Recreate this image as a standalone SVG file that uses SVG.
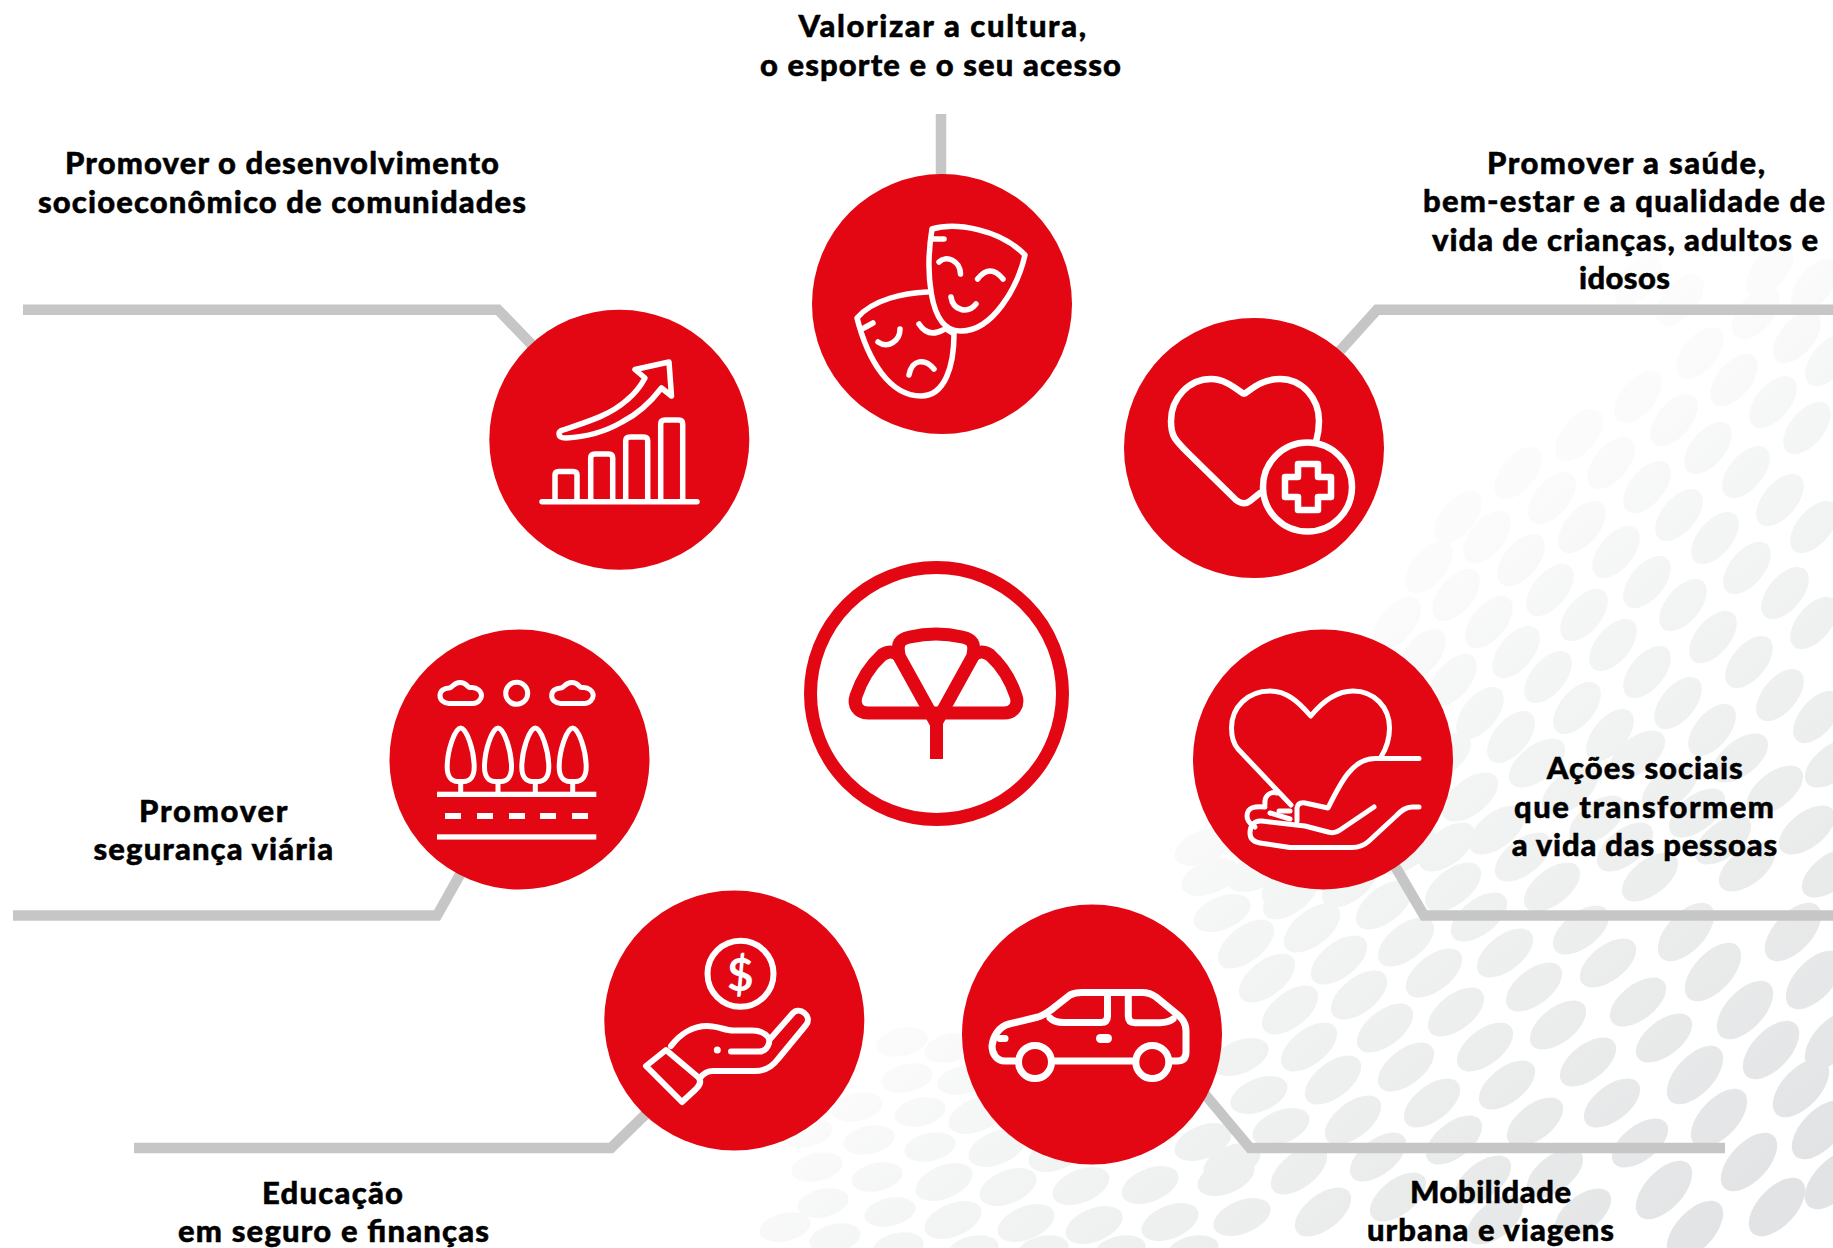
<svg xmlns="http://www.w3.org/2000/svg" width="1833" height="1248" viewBox="0 0 1833 1248">
<style>
text{font-family:"Lato","Liberation Sans",sans-serif;font-weight:900;font-size:31px;fill:#000;stroke:#000;stroke-width:.5}
.c{fill:#e30613}
.i{fill:none;stroke:#fff;stroke-width:5.5;stroke-linecap:round;stroke-linejoin:round}
.w{fill:#fff}
.conn{fill:none;stroke:#c6c6c6;stroke-width:10.5;stroke-linejoin:miter}
.logo{fill:none;stroke:#e30613;stroke-width:13;stroke-linejoin:round}
</style>
<defs>
<ellipse id="s" rx="31" ry="17" transform="rotate(-50)"/>
<ellipse id="b" rx="36" ry="19" transform="rotate(-47)"/>
<ellipse id="m" rx="33" ry="17.5" transform="rotate(-38)"/>
<ellipse id="l" rx="30" ry="16.5" transform="rotate(-22)"/>
<ellipse id="f" rx="26" ry="14" transform="rotate(-12)"/>
<linearGradient id="fade" gradientUnits="userSpaceOnUse" x1="1050" y1="600" x2="1650" y2="1300">
<stop offset="0" stop-color="#fff"/><stop offset=".25" stop-color="#fbfbfb"/><stop offset=".4" stop-color="#f4f5f5"/><stop offset=".6" stop-color="#eeefef"/><stop offset="1" stop-color="#e2e3e4"/>
</linearGradient>
<mask id="dots" maskUnits="userSpaceOnUse" x="0" y="0" width="1833" height="1248">
<g fill="#fff">
<use href="#s" x="1638" y="280"/><use href="#s" x="1680" y="300"/><use href="#s" x="1756" y="313"/><use href="#s" x="1797" y="337"/><use href="#s" x="1829" y="360"/><use href="#s" x="1770" y="270"/><use href="#s" x="1815" y="285"/>
<use href="#s" x="1700" y="353"/><use href="#s" x="1734" y="380"/><use href="#s" x="1773" y="402"/><use href="#s" x="1807" y="428"/>
<use href="#s" x="1638" y="397"/><use href="#s" x="1674" y="420"/><use href="#s" x="1708" y="448"/><use href="#s" x="1746" y="472"/><use href="#s" x="1780" y="500"/><use href="#s" x="1814" y="527"/>
<use href="#s" x="1579" y="435"/><use href="#s" x="1611" y="463"/><use href="#s" x="1647" y="487"/><use href="#s" x="1679" y="515"/><use href="#s" x="1715" y="538"/><use href="#s" x="1747" y="568"/><use href="#s" x="1785" y="593"/><use href="#s" x="1814" y="623"/>
<use href="#s" x="1518" y="473"/><use href="#s" x="1552" y="498"/><use href="#s" x="1582" y="527"/><use href="#s" x="1616" y="552"/><use href="#s" x="1647" y="582"/><use href="#s" x="1683" y="605"/><use href="#s" x="1713" y="637"/><use href="#s" x="1749" y="662"/><use href="#s" x="1780" y="695"/><use href="#s" x="1817" y="717"/>
<use href="#s" x="1458" y="517"/><use href="#s" x="1487" y="537"/><use href="#s" x="1521" y="560"/><use href="#s" x="1550" y="590"/><use href="#s" x="1584" y="615"/><use href="#s" x="1613" y="645"/><use href="#s" x="1647" y="672"/><use href="#s" x="1678" y="703"/><use href="#s" x="1712" y="730"/>
<use href="#s" x="1429" y="567"/><use href="#s" x="1456" y="595"/><use href="#s" x="1489" y="622"/><use href="#s" x="1516" y="652"/><use href="#s" x="1548" y="677"/><use href="#s" x="1577" y="708"/><use href="#s" x="1610" y="735"/>
<use href="#s" x="1397" y="623"/><use href="#s" x="1422" y="655"/><use href="#s" x="1453" y="680"/><use href="#s" x="1480" y="713"/><use href="#s" x="1511" y="737"/>
<use href="#m" x="1537" y="763"/><use href="#m" x="1637" y="755"/><use href="#m" x="1740" y="758"/><use href="#m" x="1833" y="763"/><use href="#m" x="1443" y="757"/>
<use href="#m" x="1470" y="797"/><use href="#m" x="1570" y="790"/><use href="#m" x="1670" y="787"/><use href="#m" x="1775" y="790"/>
<use href="#m" x="1497" y="830"/><use href="#m" x="1597" y="820"/><use href="#m" x="1697" y="813"/><use href="#m" x="1807" y="830"/>
<use href="#m" x="1447" y="847"/><use href="#m" x="1523" y="857"/><use href="#m" x="1625" y="847"/><use href="#m" x="1723" y="840"/>
<use href="#m" x="1453" y="887"/><use href="#m" x="1552" y="887"/><use href="#m" x="1650" y="877"/><use href="#m" x="1747" y="867"/><use href="#m" x="1830" y="873"/>
<use href="#l" x="1210" y="877"/><use href="#l" x="1255" y="873"/><use href="#l" x="1290" y="887"/><use href="#l" x="1203" y="847"/><use href="#m" x="1350" y="883"/><use href="#m" x="1407" y="850"/>
<use href="#l" x="1222" y="913"/><use href="#m" x="1291" y="895"/><use href="#m" x="1384" y="905"/><use href="#m" x="1479" y="917"/><use href="#m" x="1581" y="930"/><use href="#b" x="1686" y="932"/><use href="#b" x="1793" y="932"/>
<use href="#m" x="1246" y="944"/><use href="#m" x="1312" y="928"/><use href="#m" x="1406" y="942"/><use href="#m" x="1505" y="953"/><use href="#m" x="1608" y="963"/><use href="#b" x="1713" y="972"/><use href="#b" x="1814" y="980"/>
<use href="#m" x="1267" y="978"/><use href="#m" x="1339" y="960"/><use href="#m" x="1434" y="973"/><use href="#m" x="1534" y="987"/><use href="#m" x="1638" y="1002"/><use href="#b" x="1745" y="1010"/>
<use href="#m" x="1290" y="1010"/><use href="#m" x="1359" y="995"/><use href="#m" x="1456" y="1012"/><use href="#m" x="1558" y="1025"/><use href="#m" x="1664" y="1038"/><use href="#b" x="1771" y="1050"/>
<use href="#m" x="1309" y="1047"/><use href="#m" x="1385" y="1028"/><use href="#m" x="1485" y="1047"/><use href="#m" x="1588" y="1062"/><use href="#b" x="1695" y="1075"/><use href="#b" x="1801" y="1088"/>
<use href="#l" x="1240" y="1057"/><use href="#m" x="1333" y="1080"/><use href="#m" x="1406" y="1067"/><use href="#m" x="1507" y="1085"/><use href="#m" x="1612" y="1103"/><use href="#b" x="1719" y="1118"/><use href="#b" x="1820" y="1130"/>
<use href="#l" x="1259" y="1095"/><use href="#m" x="1353" y="1120"/><use href="#m" x="1432" y="1103"/><use href="#m" x="1535" y="1122"/><use href="#m" x="1640" y="1143"/><use href="#b" x="1749" y="1162"/>
<use href="#l" x="1281" y="1127"/><use href="#l" x="1203" y="1142"/><use href="#l" x="1232" y="1162"/><use href="#m" x="1454" y="1140"/>
<use href="#l" x="1226" y="1177"/><use href="#m" x="1299" y="1170"/><use href="#m" x="1378" y="1157"/><use href="#m" x="1483" y="1180"/><use href="#m" x="1555" y="1173"/><use href="#b" x="1664" y="1190"/><use href="#b" x="1777" y="1207"/><use href="#b" x="1833" y="1040"/>
<use href="#l" x="1242" y="1217"/><use href="#m" x="1323" y="1212"/><use href="#m" x="1398" y="1197"/><use href="#m" x="1495" y="1220"/><use href="#m" x="1583" y="1213"/><use href="#b" x="1695" y="1230"/><use href="#b" x="1833" y="1180"/>
<use href="#f" x="902" y="1042"/><use href="#f" x="950" y="1048"/><use href="#f" x="907" y="1078"/><use href="#f" x="963" y="1080"/><use href="#f" x="857" y="1107"/><use href="#f" x="920" y="1112"/><use href="#l" x="977" y="1115"/>
<use href="#f" x="807" y="1133"/><use href="#f" x="869" y="1140"/><use href="#f" x="930" y="1147"/><use href="#l" x="997" y="1148"/><use href="#l" x="1057" y="1153"/><use href="#f" x="817" y="1167"/><use href="#f" x="877" y="1177"/><use href="#l" x="944" y="1182"/><use href="#l" x="1008" y="1187"/><use href="#l" x="1081" y="1186"/><use href="#l" x="1150" y="1185"/>
<use href="#f" x="823" y="1203"/><use href="#f" x="890" y="1212"/><use href="#l" x="953" y="1220"/><use href="#l" x="1026" y="1223"/><use href="#l" x="1094" y="1225"/><use href="#l" x="1170" y="1222"/>
<use href="#f" x="835" y="1238"/><use href="#f" x="898" y="1247"/><use href="#f" x="785" y="1227"/><use href="#f" x="973" y="1250"/><use href="#f" x="1043" y="1250"/><use href="#f" x="1120" y="1250"/><use href="#f" x="1193" y="1250"/>
</g>
</mask>
<path id="cloud" d="M449,702.5H473C478,702.5 481.5,698 481.5,694.5C481.5,690 477,686.5 472,686.5H470C467,686.5 467,681.5 460,681.5C453,681.5 453,687 449,687C444,687 440,690 440,694.5C440,699 444,702.5 449,702.5Z"/>
<g id="tree"><path d="M0,727C6,727 13.5,750 13.5,766C13.5,776 9,780.5 3,780.5H-3C-9,780.5 -13.5,776 -13.5,766C-13.5,750 -6,727 0,727Z"/><path d="M0,780.5V792"/></g>
</defs>
<rect width="1833" height="1248" fill="#fff"/>
<g id="background"><rect width="1833" height="1248" fill="url(#fade)" mask="url(#dots)"/></g>

<g transform="translate(0,1)">
<g id="connectors" class="conn">
<path d="M941,113V180"/>
<path d="M23,308.7H498L535,347"/>
<path d="M1833,308.7H1377L1338,352"/>
<path d="M1833,914.5H1424L1392,860"/>
<path d="M1725,1147H1250L1198,1085"/>
<path d="M13,914.5H437L462,870"/>
<path d="M134,1147H611L652,1107"/>
</g>

<g id="node-cultura">
<circle class="c" cx="942" cy="303" r="130"/>
<g class="i">
<path d="M932,228C955,221 1000,228 1025,254C1018,285 993,331 960,330C927,330 926,265 932,228Z"/>
<path d="M933,238H944"/>
<path d="M939,261C946,254 960,259 960.5,273"/>
<path d="M977.6,278Q990,262 1003,278"/>
<path d="M951,296C953,310 968,313 976,303"/>
<path d="M927,291C905,292 873,298 857,317C868,360 890,395 921,395C945,395 954,365 954,333L946,328"/>
<path d="M864,327L873,322"/>
<path d="M919,323Q928,337 943,329"/>
<path d="M900,328C900,340 888,348 878,341"/>
<path d="M909,374C912,358 925,357 934,368"/>
</g>
<text x="798.5" y="36" textLength="287.5">Valorizar a cultura,</text>
<text x="760" y="74.5" textLength="361">o esporte e o seu acesso</text>
</g>

<g id="node-comunidades">
<circle class="c" cx="619.3" cy="438.7" r="130"/>
<g class="i">
<path d="M542,500.7H697"/>
<path d="M555,500V474Q555,470.5 559,470.5H573Q577,470.5 577,474V500"/>
<path d="M590.7,500V457Q590.7,453 595,453H608.7Q612.7,453 612.7,457V500"/>
<path d="M625.7,500V440Q625.7,436 630,436H643.7Q647.7,436 647.7,440V500"/>
<path d="M660.7,500V423Q660.7,419 665,419H678.7Q682.7,419 682.7,423V500"/>
<path d="M563,429C590,420 610,414 627,399Q638,390 645,377L635,368.5L669,361L671.5,395L661.5,387C650,402 638,413 622,421C605,431 585,436 566,437Q559,437 559,433Q559,430 563,429Z"/>
</g>
<text x="65" y="173.3" textLength="434">Promover o desenvolvimento</text>
<text x="38" y="211.8" textLength="488">socioeconômico de comunidades</text>
</g>

<g id="node-saude">
<circle class="c" cx="1254" cy="447" r="130"/>
<g class="i" style="stroke-width:6.5">
<path d="M1260,492L1250,500Q1244,505 1236,499L1187,451C1175,439 1171,435 1171,420C1171,397 1189,378 1211,378C1224,378 1234,386 1241,391Q1244,394 1247,391C1254,386 1264,378 1280,378C1302,378 1319,397 1319,420Q1319,430 1316,441"/>
<circle cx="1307.5" cy="486" r="44.5"/>
<path d="M1298,463H1318V476H1331V496H1318V509H1298V496H1285V476H1298Z"/>
</g>
<text x="1487" y="172.8" textLength="278">Promover a saúde,</text>
<text x="1423" y="211.3" textLength="402">bem-estar e a qualidade de</text>
<text x="1432" y="249.8" textLength="386">vida de crianças, adultos e</text>
<text x="1579" y="288.3" textLength="91">idosos</text>
</g>

<g id="node-acoes">
<circle class="c" cx="1323" cy="758.5" r="130"/>
<g class="i" style="stroke-width:5">
<path d="M1291,804L1238,748C1233,742 1231.5,735 1231.5,727C1231.5,706 1248,690 1270,690C1286,690 1298,700 1310.7,715C1323,700 1336,690 1353,690C1374,690 1389.5,706 1389.5,727C1389.5,738 1386,748 1381,756"/>
<path d="M1419,757.5H1375C1352,757.5 1340,783 1328,807L1305,802Q1298,801 1297,807L1297,820"/>
<path d="M1277,792C1270,790 1264,795 1265,803"/>
<path d="M1265,806C1255,805 1247,806 1247,815C1247,822 1253,824 1255,826"/>
<path d="M1279,810H1290"/>
<path d="M1270,812L1290,818"/>
<path d="M1374,806L1340,829Q1335,833 1328,831L1305,825L1262,820C1254,819 1250,825 1250,832C1250,838 1254,841 1260,842L1290,846.5H1352Q1362,846.5 1369,840L1396,815C1402,809 1406,806 1412,806H1419"/>
</g>
<text x="1546.7" y="778.3" textLength="196">Ações sociais</text>
<text x="1514" y="816.7" textLength="260">que transformem</text>
<text x="1511.7" y="855" textLength="265.5">a vida das pessoas</text>
</g>

<g id="node-mobilidade">
<circle class="c" cx="1092" cy="1033.5" r="130"/>
<g class="i" style="stroke-width:7">
<path d="M1015,1060H1005C996,1060 992,1052 992,1045C993,1036 998,1026 1009,1023L1038,1016C1045,1014 1050,1010 1056,1005L1070,994Q1075,991.5 1082,991.5H1142Q1150,991.5 1156,996L1178,1014C1183,1018 1186,1022 1186,1030V1051Q1186,1060 1177,1060H1171"/>
<path d="M1055,1060H1133"/>
<circle cx="1035" cy="1061" r="16.5"/>
<circle cx="1152.3" cy="1061" r="16.5"/>
<path d="M1050,1017C1054,1021 1058,1021.5 1064,1021.5H1101Q1107.5,1021.5 1107.5,1015V993"/>
<path d="M1128.3,993V1015Q1128.3,1021.7 1135,1021.7H1160Q1168,1021.7 1173,1018"/>
<path d="M1000,1037.5H1005"/>
</g>
<rect class="w" x="1096" y="1033" width="16" height="9" rx="4.5"/>
<text x="1410" y="1201.7" textLength="161">Mobilidade</text>
<text x="1367" y="1240" textLength="247">urbana e viagens</text>
</g>

<g id="node-educacao">
<circle class="c" cx="734.3" cy="1019.5" r="130"/>
<g class="i" style="stroke-width:6">
<circle cx="740.5" cy="972.8" r="33"/>
<path d="M666,1049L646,1065L682,1101L696,1088Q703,1081 698,1076Z"/>
<path d="M731,1050.5H759C768,1050.5 771,1040 768,1036C764,1031 758,1029.5 752,1029.5H733C725,1029.5 718,1025 707,1025C693,1025 680,1033 671,1045"/>
<path d="M771,1037L793,1012C799,1005 813,1015 806,1024L778,1058C772,1066 764,1070 755,1070H713C708,1070 703,1073 700,1077"/>
</g>
<circle class="w" cx="717.3" cy="1049" r="3.5"/>
<text x="740.3" y="990" style="fill:#fff;stroke:none;font-size:46px;font-weight:700;text-anchor:middle">$</text>
<text x="262" y="1203" textLength="141">Educação</text>
<text x="178" y="1241" textLength="311">em seguro e finanças</text>
</g>

<g id="node-viaria">
<circle class="c" cx="519.5" cy="758.5" r="130"/>
<g class="i" style="stroke-width:5">
<use href="#cloud"/>
<use href="#cloud" x="111.7"/>
<circle cx="516.7" cy="692.3" r="11"/>
<use href="#tree" x="460.7"/><use href="#tree" x="498"/><use href="#tree" x="535.3"/><use href="#tree" x="572.7"/>
</g>
<g class="w">
<rect x="437" y="790.7" width="159.3" height="5.3"/>
<rect x="445" y="812" width="16" height="6"/><rect x="477" y="812" width="16" height="6"/><rect x="509" y="812" width="16" height="6"/><rect x="540" y="812" width="16" height="6"/><rect x="572" y="812" width="16" height="6"/>
<rect x="437" y="833.3" width="159.3" height="5.3"/>
</g>
<text x="139" y="820.6" textLength="148.5">Promover</text>
<text x="93.5" y="859" textLength="239.5">segurança viária</text>
</g>

<g id="node-central">
<circle cx="936.5" cy="692.5" r="126" fill="none" stroke="#e30613" stroke-width="13"/>
<g class="logo">
<path d="M936,722L899.5,656C896,642 900,638 910,636C927,632 945,632 962,636C972,638 976,642 972.5,656Z"/>
<path d="M936,712H868C858,712 853,704 856,695C862,677 872,663 882,654C888,650 895,650 899,655"/>
<path d="M936,712H1004C1014,712 1019,704 1016,695C1010,677 1000,663 990,654C984,650 977,650 973,655"/>
</g>
<rect x="930" y="712" width="13" height="46" fill="#e30613"/>
</g>
</g>
</svg>
